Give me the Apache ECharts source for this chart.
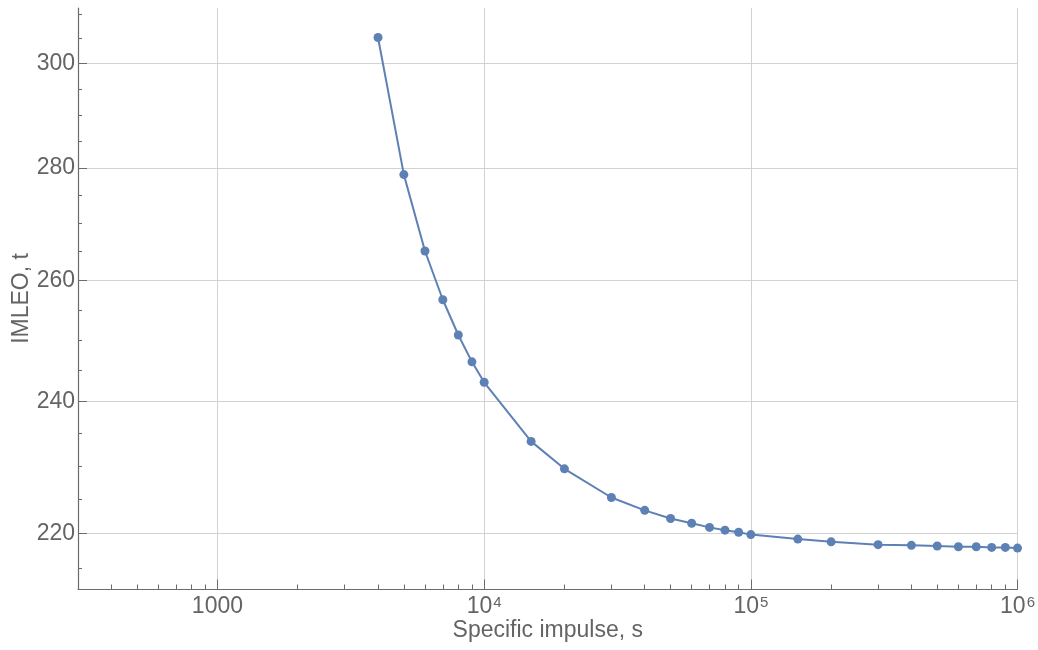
<!DOCTYPE html>
<html>
<head>
<meta charset="utf-8">
<script src="https://cdn.jsdelivr.net/npm/echarts@6/dist/echarts.min.js"></script>
<style>
  html, body { margin: 0; padding: 0; background: #fff; }
  #chart { width: 1038px; height: 650px; }
</style>
</head>
<body>
<div id="chart"></div>
<script>
// Specific impulse (s) and the resulting initial mass in LEO (t)
const isp = [4000, 5000, 6000, 7000, 8000, 9000, 10000, 15000, 20000, 30000, 40000, 50000,
  60000, 70000, 80000, 90000, 100000, 150000, 200000, 300000, 400000, 500000, 600000,
  700000, 800000, 900000, 1000000];
const imleo = [305.2, 278.8, 265.1, 256.7, 250.8, 246.4, 243.1, 233.8, 229.6, 225.3, 223.4, 222.2,
  221.5, 220.9, 220.5, 220.2, 219.85, 219.2, 218.8, 218.4, 218.3, 218.2, 218.1,
  218.1, 218.0, 218.0, 217.9];

// Tick positions
const xMajorTicks = [1000, 10000, 100000, 1000000];
const xMinorTicks = [400, 500, 600, 700, 800, 900,
  2000, 3000, 4000, 5000, 6000, 7000, 8000, 9000,
  20000, 30000, 40000, 50000, 60000, 70000, 80000, 90000,
  200000, 300000, 400000, 500000, 600000, 700000, 800000, 900000];
const yMajorTicks = [220, 240, 260, 280, 300];
const yMinorTicks = [215, 225, 230, 235, 245, 250, 255, 265, 270, 275, 285, 290, 295, 305, 310];

const xRange = [300, 1000000];
const yRange = [212.1, 311.2];

const FONT = "'Liberation Sans', Arial, Helvetica, sans-serif";
const TEXT = '#646464';
const AXIS = '#6b6b6b';
const GRID = '#d2d2d2';
const LINE = '#5e81b5';

const chart = echarts.init(document.getElementById('chart'));

function powerLabel(v) {
  const e = Math.round(Math.log10(v));
  if (e === 3) return '{b|1000}';
  return '{b|10}{s|' + e + '}';
}

chart.setOption({
  animation: false,
  backgroundColor: '#ffffff',
  grid: { left: 78, right: 20, top: 8, bottom: 61, containLabel: false },
  xAxis: [
    {
      type: 'log', logBase: 10, min: xRange[0], max: xRange[1],
      position: 'bottom',
      name: 'Specific impulse, s', nameLocation: 'middle', nameGap: 30,
      nameMoveOverlap: false,
      nameTextStyle: { fontFamily: FONT, fontSize: 23, color: TEXT },
      axisLine: { show: true, onZero: false, lineStyle: { color: AXIS, width: 1.2 } },
      axisTick: { show: true, inside: true, length: 9.5, customValues: xMajorTicks,
        lineStyle: { color: AXIS, width: 1 } },
      axisLabel: {
        show: true, customValues: xMajorTicks, margin: 6,
        formatter: powerLabel,
        rich: {
          b: { fontFamily: FONT, fontSize: 23, color: TEXT, lineHeight: 24 },
          s: { fontFamily: FONT, fontSize: 15, color: TEXT, lineHeight: 24, verticalAlign: 'top', padding: [0, 0, 0, 1] }
        }
      },
      splitLine: { show: true, lineStyle: { color: GRID, width: 1 } },
      minorTick: { show: false },
      minorSplitLine: { show: false }
    },
    {
      type: 'log', logBase: 10, min: xRange[0], max: xRange[1],
      position: 'bottom',
      axisLine: { show: false, onZero: false },
      axisTick: { show: true, inside: true, length: 4.5, customValues: xMinorTicks,
        lineStyle: { color: AXIS, width: 1 } },
      axisLabel: { show: false },
      splitLine: { show: false }
    }
  ],
  yAxis: [
    {
      type: 'log', logBase: 10, min: yRange[0], max: yRange[1],
      position: 'left',
      name: 'IMLEO, t', nameLocation: 'middle', nameGap: 45, nameRotate: 90,
      nameMoveOverlap: false,
      nameTextStyle: { fontFamily: FONT, fontSize: 23, color: TEXT },
      axisLine: { show: true, onZero: false, lineStyle: { color: AXIS, width: 1.2 } },
      axisTick: { show: true, inside: true, length: 9, customValues: yMajorTicks,
        lineStyle: { color: AXIS, width: 1 } },
      axisLabel: {
        show: true, customValues: yMajorTicks, margin: 3,
        fontFamily: FONT, fontSize: 23, color: TEXT,
        formatter: v => String(Math.round(v))
      },
      splitLine: { show: true, lineStyle: { color: GRID, width: 1 } },
      minorTick: { show: false },
      minorSplitLine: { show: false }
    },
    {
      type: 'log', logBase: 10, min: yRange[0], max: yRange[1],
      position: 'left',
      axisLine: { show: false, onZero: false },
      axisTick: { show: true, inside: true, length: 4, customValues: yMinorTicks,
        lineStyle: { color: AXIS, width: 1 } },
      axisLabel: { show: false },
      splitLine: { show: false }
    }
  ],
  series: [
    {
      type: 'line',
      xAxisIndex: 0, yAxisIndex: 0,
      data: isp.map((x, i) => [x, imleo[i]]),
      symbol: 'circle', symbolSize: 9,
      showAllSymbol: true,
      clip: false,
      itemStyle: { color: LINE },
      lineStyle: { color: LINE, width: 2 },
      emphasis: { disabled: true }
    }
  ]
});
</script>
</body>
</html>
